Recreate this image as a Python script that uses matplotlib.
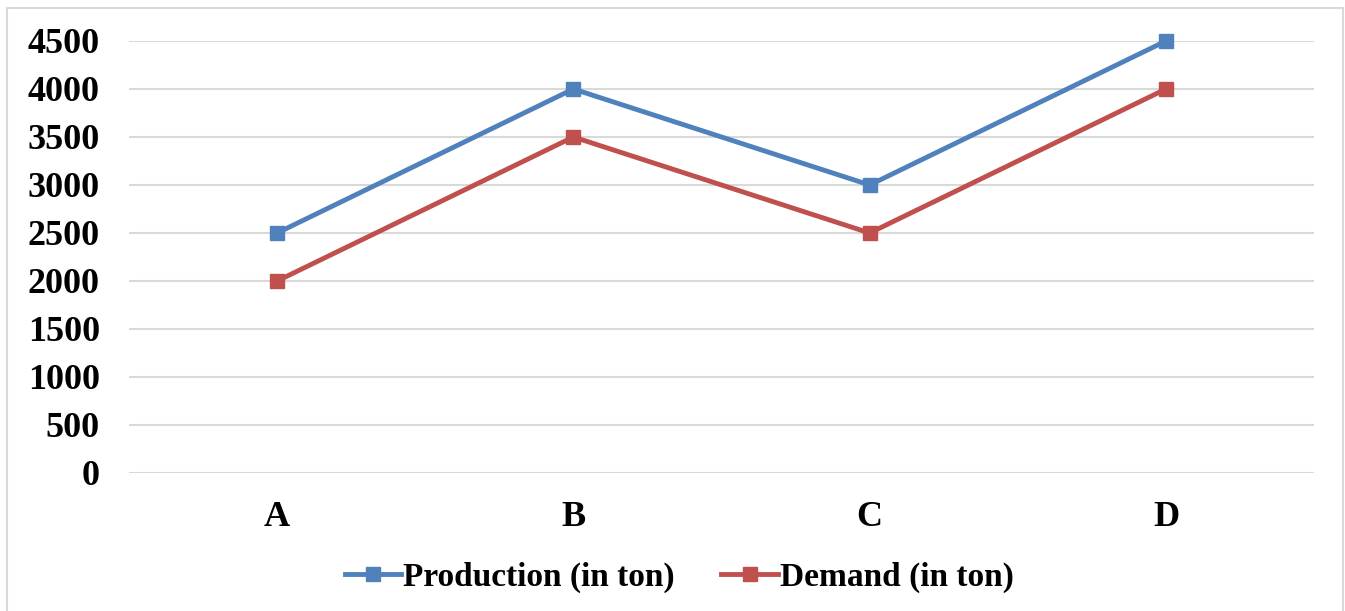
import matplotlib.pyplot as plt
from matplotlib.patches import Rectangle

categories = ['A', 'B', 'C', 'D']
production = [2500, 4000, 3000, 4500]
demand = [2000, 3500, 2500, 4000]
yticks = [0, 500, 1000, 1500, 2000, 2500, 3000, 3500, 4000, 4500]

blue = '#4F81BD'
red = '#C0504D'
grid_col = '#D9D9D9'

plt.rcParams['font.family'] = ['Liberation Serif', 'DejaVu Serif']
plt.rcParams['font.weight'] = 'bold'

fig = plt.figure(figsize=(13.45, 6.11), dpi=100)
ax = fig.add_axes([0.0959, 0.2259, 0.977 - 0.0959, 0.9329 - 0.2259])

x = range(len(categories))
ax.plot(x, production, color=blue, lw=3.5, marker='s', ms=10,
        label='Production (in ton)', zorder=3, clip_on=False)
ax.plot(x, demand, color=red, lw=3.5, marker='s', ms=10,
        label='Demand (in ton)', zorder=3, clip_on=False)

ax.set_xlim(-0.5, 3.5)
ax.set_ylim(0, 4500)
ax.set_yticks(yticks)
ax.set_xticks(list(x))
ax.set_xticklabels(categories)
ax.yaxis.grid(True, color=grid_col, lw=1.5)
ax.set_axisbelow(True)
for s in ax.spines.values():
    s.set_visible(False)
ax.tick_params(axis='y', length=0, pad=21, labelsize=26)
ax.tick_params(axis='x', length=0, pad=20, labelsize=26)
for lab in ax.get_xticklabels() + ax.get_yticklabels():
    lab.set_fontweight('bold')

leg = ax.legend(loc='center', ncol=2, frameon=False, handlelength=1.7,
                handletextpad=0.05, columnspacing=1.4,
                prop={'weight': 'bold', 'size': 24})
leg.set_bbox_to_anchor((0.505, 1 - 577 / 611), transform=fig.transFigure)

# chart border
fig.patches.append(Rectangle((7 / 1345, -0.01), 1336 / 1345, 1 - 8 / 611 + 0.01,
                             transform=fig.transFigure, fill=False,
                             edgecolor=grid_col, lw=1.5))

plt.savefig('out.png', dpi=100)
